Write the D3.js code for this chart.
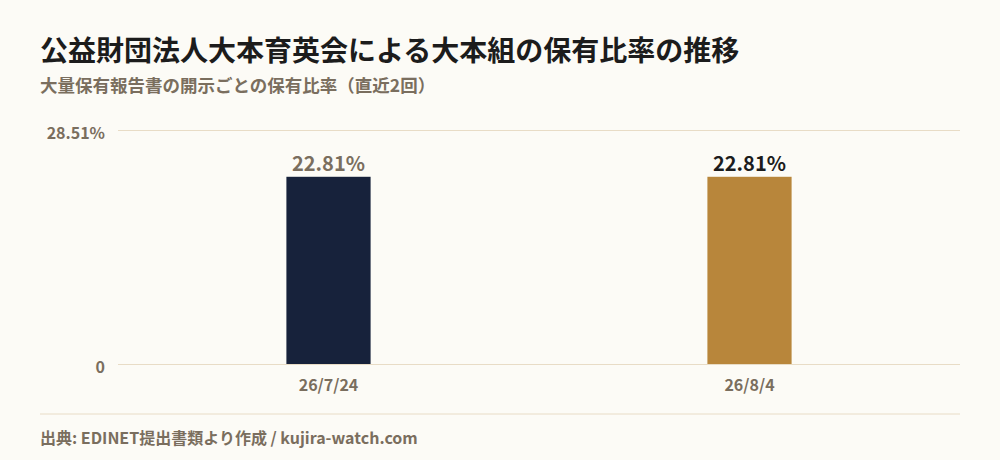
<!DOCTYPE html>
<html>
<head>
<meta charset="utf-8">
<script src="https://cdn.jsdelivr.net/npm/d3@7/dist/d3.min.js"></script>
<style>
  html, body { margin: 0; padding: 0; background: #fcfbf6; }
  svg { display: block; font-family: "Noto Sans CJK JP", "Noto Sans", sans-serif; }
</style>
</head>
<body>
<svg id="chart" width="1000" height="460"></svg>
<script>
// 報告日と保有比率
var dates = ['26/7/24', '26/8/4']
  , ratios = [22.81, 22.81]
  , yTicks = [0, 28.51]
  , barColors = ['#17223b', '#b8863b']
  , labelColors = ['#7a6e5e', '#1c1c1c']

var W = 1000, H = 460
  , margin = { top: 130, right: 40, bottom: 96, left: 118 }
  , svg = d3.select('#chart')

svg.append('rect').attr('width', W).attr('height', H).attr('fill', '#fcfbf6')

svg.append('text')
  .attr('x', 40).attr('y', 61)
  .attr('font-size', 28).attr('font-weight', 700).attr('fill', '#1c1c1c')
  .text('公益財団法人大本育英会による大本組の保有比率の推移')

svg.append('text')
  .attr('x', 40).attr('y', 92)
  .attr('font-size', 17.5).attr('font-weight', 700).attr('fill', '#7a6e5e')
  .text('大量保有報告書の開示ごとの保有比率（直近2回）')

var x = d3.scaleBand().domain(dates).range([margin.left, W - margin.right]).padding(0)
  , y = d3.scaleLinear().domain([0, yTicks[1]]).range([H - margin.bottom, margin.top])
  , barW = x.bandwidth() * 0.2

// grid lines + y labels
var yAxis = svg.append('g')
  .attr('transform', 'translate(' + margin.left + ',0)')
  .call(d3.axisLeft(y).tickValues(yTicks)
    .tickSize(-(W - margin.right - margin.left))
    .tickPadding(13)
    .tickFormat(function(d) { return d === 0 ? '0' : d3.format('.2f')(d) + '%' }))
yAxis.select('.domain').remove()
yAxis.selectAll('.tick line').attr('stroke', '#e8dcc6').attr('stroke-width', 1)
yAxis.selectAll('.tick text')
  .style('font-size', '16px').style('font-weight', 700).attr('fill', '#7a6e5e')
  .style('font-family', '"Noto Sans CJK JP", sans-serif')
  .attr('dy', '0.5em')

svg.append('g').selectAll('rect').data(ratios).enter().append('rect')
  .attr('x', function(d, i) { return x(dates[i]) + x.bandwidth() / 2 - barW / 2 })
  .attr('y', function(d) { return y(d) })
  .attr('width', barW)
  .attr('height', function(d) { return y(0) - y(d) })
  .attr('fill', function(d, i) { return barColors[i] })

svg.append('g').selectAll('text').data(ratios).enter().append('text')
  .attr('x', function(d, i) { return x(dates[i]) + x.bandwidth() / 2 })
  .attr('y', function(d) { return y(d) - 6 })
  .attr('text-anchor', 'middle')
  .attr('font-size', 20).attr('font-weight', 600)
  .attr('fill', function(d, i) { return labelColors[i] })
  .text(function(d) { return d.toFixed(2) + '%' })

// x labels
var xAxis = svg.append('g')
  .attr('transform', 'translate(0,' + y(0) + ')')
  .call(d3.axisBottom(x).tickSize(0).tickPadding(16))
xAxis.select('.domain').remove()
xAxis.selectAll('.tick text')
  .style('font-size', '16px').style('font-weight', 700).attr('fill', '#7a6e5e')
  .style('font-family', '"Noto Sans CJK JP", sans-serif')

svg.append('line')
  .attr('x1', 40).attr('x2', W - 40).attr('y1', 414).attr('y2', 414)
  .attr('stroke', '#e8dcc6')

svg.append('text')
  .attr('x', 40).attr('y', 444)
  .attr('font-size', 16).attr('font-weight', 700).attr('fill', '#7a6e5e')
  .text('出典: EDINET提出書類より作成 / kujira-watch.com')
</script>
</body>
</html>
